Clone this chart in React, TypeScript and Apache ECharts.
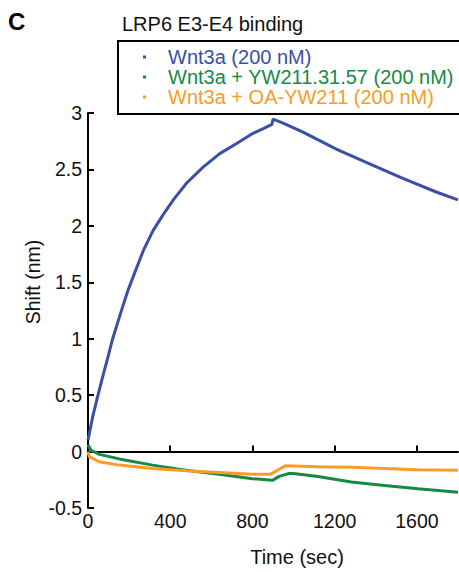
import React, { useEffect, useRef } from "react";
import * as echarts from "echarts";

const FONT = "Liberation Sans, Arial, Helvetica, sans-serif";

const seriesNames = [
  "Wnt3a (200 nM)",
  "Wnt3a + YW211.31.57 (200 nM)",
  "Wnt3a + OA-YW211 (200 nM)",
];
const seriesColors = ["#3a4fa5", "#168a45", "#f89c26"];

const blueTime = [0, 23, 47, 71, 96, 120, 144, 168, 193, 220, 269, 317, 366, 415, 480, 560, 641, 723, 803, 850, 895, 900, 949, 1046, 1208, 1370, 1532, 1694, 1800];
const blueShift = [0.1, 0.31, 0.49, 0.66, 0.83, 1.0, 1.14, 1.28, 1.42, 1.55, 1.78, 1.96, 2.1, 2.23, 2.38, 2.52, 2.64, 2.73, 2.82, 2.86, 2.9, 2.945, 2.91, 2.83, 2.68, 2.55, 2.42, 2.3, 2.23];

const greenTime = [0, 15, 55, 152, 314, 476, 638, 800, 897, 930, 975, 1000, 1119, 1281, 1443, 1605, 1800];
const greenShift = [0.06, 0.01, -0.025, -0.065, -0.12, -0.165, -0.2, -0.24, -0.255, -0.22, -0.195, -0.195, -0.22, -0.27, -0.3, -0.33, -0.36];

const orangeTime = [0, 6, 55, 152, 314, 476, 638, 800, 889, 922, 962, 1119, 1281, 1443, 1605, 1800];
const orangeShift = [0.0, -0.045, -0.09, -0.12, -0.15, -0.17, -0.185, -0.2, -0.2, -0.165, -0.125, -0.135, -0.14, -0.15, -0.16, -0.165];

const xTicks = { min: 0, max: 1800, interval: 400 };
const yTicks = { min: -0.5, max: 3, interval: 0.5 };

const zip = (t: number[], v: number[]) => t.map((x, i) => [x, v[i]]);

export default function App() {
  const ref = useRef<HTMLDivElement>(null);
  useEffect(() => {
    if (!ref.current) return;
    const chart = echarts.init(ref.current, null, { renderer: "svg" });
    const datasets = [zip(blueTime, blueShift), zip(greenTime, greenShift), zip(orangeTime, orangeShift)];
    chart.setOption({
      animation: false,
      textStyle: { fontFamily: FONT },
      grid: { left: 88, right: 1, top: 113, bottom: 64 },
      xAxis: {
        type: "value",
        min: xTicks.min,
        max: xTicks.max,
        interval: xTicks.interval,
        splitLine: { show: false },
        axisLine: { lineStyle: { color: "#000", width: 2 } },
        axisTick: { inside: true, length: 6, lineStyle: { color: "#000", width: 2 } },
        axisLabel: { color: "#111", fontSize: 19.5, margin: 3, fontFamily: FONT, showMaxLabel: false, formatter: (v: number) => String(v) },
      },
      yAxis: {
        type: "value",
        min: yTicks.min,
        max: yTicks.max,
        interval: yTicks.interval,
        splitLine: { show: false },
        axisLine: { show: true, lineStyle: { color: "#000", width: 2 } },
        axisTick: { show: true, inside: true, length: 6, lineStyle: { color: "#000", width: 2 } },
        axisLabel: { color: "#111", fontSize: 19.5, margin: 6, fontFamily: FONT, formatter: (v: number) => String(v) },
      },
      legend: {
        orient: "vertical",
        left: 143,
        top: 47,
        padding: 0,
        itemGap: 0,
        itemWidth: 3,
        itemHeight: 3,
        icon: "rect",
        selectedMode: false,
        textStyle: { fontSize: 20, lineHeight: 18.3, fontFamily: FONT, padding: [0, 0, 0, 17] },
        data: seriesNames.map((n, i) => ({ name: n, textStyle: { color: seriesColors[i] } })),
      },
      series: seriesNames.map((n, i) => ({
        name: n,
        type: "line",
        data: datasets[i],
        showSymbol: false,
        symbol: "none",
        color: seriesColors[i],
        lineStyle: { width: 3, color: seriesColors[i] },
        z: 2 + i,
      })),
      graphic: [
        { type: "text", left: 8, top: 9, style: { text: "C", font: `bold 24px ${FONT}`, fill: "#000" } },
        { type: "text", x: 122, y: 24, style: { text: "LRP6 E3-E4 binding", fontSize: 20, fontFamily: FONT, fill: "#111", verticalAlign: "middle" } },
        { type: "rect", shape: { x: 118, y: 41, width: 400, height: 73 }, style: { fill: "none", stroke: "#000", lineWidth: 2 } },
        { type: "text", x: 32.5, y: 282, rotation: Math.PI / 2, style: { text: "Shift (nm)", fontSize: 19.5, fontFamily: FONT, fill: "#111", align: "center", verticalAlign: "middle" } },
        { type: "text", x: 297, y: 557, style: { text: "Time (sec)", fontSize: 20, fontFamily: FONT, fill: "#111", align: "center", verticalAlign: "middle" } },
      ],
    });
    return () => chart.dispose();
  }, []);
  return <div ref={ref} style={{ position: "fixed", left: 0, top: 0, width: 459, height: 572, background: "#fff" }} />;
}
